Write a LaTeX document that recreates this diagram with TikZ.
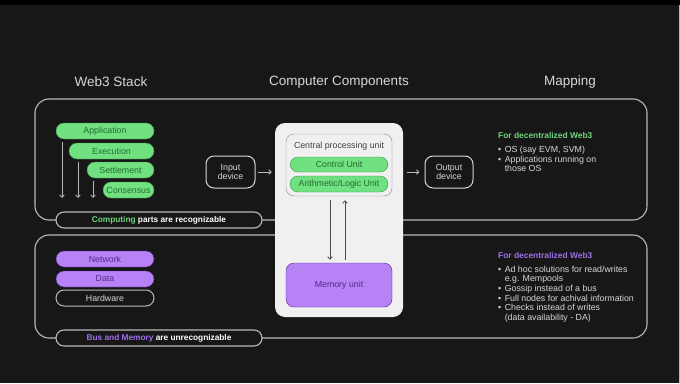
\documentclass[tikz,border=0pt]{standalone}
\usepackage{fontspec}
\setmainfont{Liberation Sans}
\usepackage{xcolor}
\usepackage{tikz}
\usetikzlibrary{positioning, arrows.meta}
\definecolor{canvas}{RGB}{23,23,23}
\definecolor{edge}{RGB}{185,185,185}
\definecolor{softtext}{RGB}{215,215,215}
\definecolor{mint}{RGB}{112,224,128}
\definecolor{mintline}{RGB}{60,150,75}
\definecolor{mintdark}{RGB}{35,110,50}
\definecolor{minttext}{RGB}{110,214,124}
\definecolor{lilac}{RGB}{183,130,245}
\definecolor{lilacdark}{RGB}{85,40,135}
\definecolor{lilactext}{RGB}{160,110,235}
\definecolor{paper}{RGB}{240,240,240}

\begin{document}
\begin{tikzpicture}[x=1pt, y=-1pt,
    panel/.style={draw=edge, line width=1.1pt, rounded corners=14pt, inner sep=0pt},
    layer/.style={rounded corners=8pt, minimum width=98pt, minimum height=16pt, inner sep=0pt, font=\fontsize{8.8}{10}\selectfont},
    greenlayer/.style={layer, draw=mintline, fill=mint, text=mintdark},
    purplelayer/.style={layer, draw=lilacdark, fill=lilac, text=lilacdark},
    tag/.style={draw=edge, line width=1.1pt, fill=canvas, rounded corners=8pt, minimum width=206pt, minimum height=16pt, text=white, font=\fontsize{8.3}{10}\selectfont\bfseries},
    device/.style={draw=softtext, line width=1pt, rounded corners=8pt, minimum width=49pt, minimum height=32pt, inner sep=0pt, align=center, text=softtext, font=\fontsize{8.8}{9}\selectfont},
    heading/.style={text=softtext, font=\fontsize{13.5}{15}\selectfont},
    maphead/.style={anchor=west, inner sep=0pt, font=\fontsize{8.4}{10}\selectfont\bfseries},
    maplist/.style={inner sep=0pt, text=softtext, font=\fontsize{8.8}{9.6}\selectfont},
    flow/.style={-{Straight Barb[length=2.5pt, width=4.5pt]}, line width=0.8pt, draw=edge},
    bus/.style={-{Straight Barb[length=2.5pt, width=4.5pt]}, line width=0.8pt, draw=black!70}
]

\fill[canvas] (0,0) rectangle (680,383);
\fill[black] (0,0) rectangle (680,5);
\fill[edge] (678.8,5) rectangle (680,383);
\useasboundingbox (0,0) rectangle (680,383);

\node[heading] (hstack) at (111,82) {Web3 Stack};
\node[heading] (hcomp) at (339,82) {Computer Components};
\node[heading] (hmap) at (570,82) {Mapping};

\node[panel, minimum width=612pt, minimum height=121pt] (upper) at (341,159.5) {};
\node[panel, minimum width=612pt, minimum height=103pt] (lower) at (341,286.5) {};

\node[tag] (comptag) at (159,220) {\textcolor{minttext}{Computing} parts are recognizable};
\node[tag] (bustag) at (159,338) {\textcolor{lilactext}{Bus and Memory} are unrecognizable};

\node[greenlayer] (app) at (105,131) {Application};
\node[greenlayer, minimum width=85pt] (exec) at (111.5,151) {Execution};
\node[greenlayer, minimum width=67pt] (settle) at (120.5,170) {Settlement};
\node[greenlayer, minimum width=51pt] (cons) at (128.5,190) {Consensus};

\coordinate (append) at (62,198);
\coordinate (execend) at (78,198);
\coordinate (settleend) at (93,198);
\draw[flow, shorten <=3pt] (app.south -| append) -- (append);
\draw[flow, shorten <=3pt] (exec.south -| execend) -- (execend);
\draw[flow, shorten <=3pt] (settle.south -| settleend) -- (settleend);

\node[purplelayer] (net) at (105,259) {Network};
\node[purplelayer] (data) at (105,279) {Data};
\node[layer, draw=edge, line width=1pt, text=softtext] (hw) at (105,298) {Hardware};

\node[fill=paper, rounded corners=10pt, minimum width=128pt, minimum height=194pt] (cpu) at (339,220) {};
\node[draw=black!45, fill=paper, rounded corners=8pt, minimum width=106pt, minimum height=62pt] (cpuin) at (339,165) {};
\node[inner sep=0pt, text=black!75, font=\fontsize{8.8}{10}\selectfont] (cputitle) at (339,146.5) {Central processing unit};
\node[greenlayer, minimum height=15pt] (ctrl) at (339,164.5) {Control Unit};
\node[greenlayer] (alu) at (339,184) {Arithmetic/Logic Unit};
\node[purplelayer, minimum width=106pt, minimum height=44pt] (mem) at (339,285) {Memory unit};

\draw[bus, shorten <=4pt, shorten >=3pt] ([xshift=-9pt]cpuin.south) -- ([xshift=-9pt]mem.north);
\draw[bus, shorten <=3pt, shorten >=4pt] ([xshift=6pt]mem.north) -- ([xshift=6pt]cpuin.south);

\node[device] (input) at (230.5,172) {Input\\device};
\node[device, minimum width=48pt] (output) at (449,172) {Output\\device};
\draw[flow, shorten <=2pt, shorten >=3pt] (input.east) -- (input.east -| cpu.west);
\draw[flow, shorten <=4pt, shorten >=5pt] (output.west -| cpu.east) -- (output.west);

\node[maphead, text=minttext] (map1h) at (498,136) {For decentralized Web3};
\node[maplist, below=6.5pt of map1h.south west, anchor=north west] (map1) {%
  \begin{tabular}{@{}l@{\hspace{3.5pt}}l@{}}
  \textbullet & OS (say EVM, SVM)\\
  \textbullet & Applications running on\\
   & those OS
  \end{tabular}};

\node[maphead, text=lilactext] (map2h) at (498,255) {For decentralized Web3};
\node[maplist, below=7pt of map2h.south west, anchor=north west] (map2) {%
  \begin{tabular}{@{}l@{\hspace{3.5pt}}l@{}}
  \textbullet & Ad hoc solutions for read/writes\\
   & e.g. Mempools\\
  \textbullet & Gossip instead of a bus\\
  \textbullet & Full nodes for achival information\\
  \textbullet & Checks instead of writes\\
   & (data availability - DA)
  \end{tabular}};

\end{tikzpicture}
\end{document}
